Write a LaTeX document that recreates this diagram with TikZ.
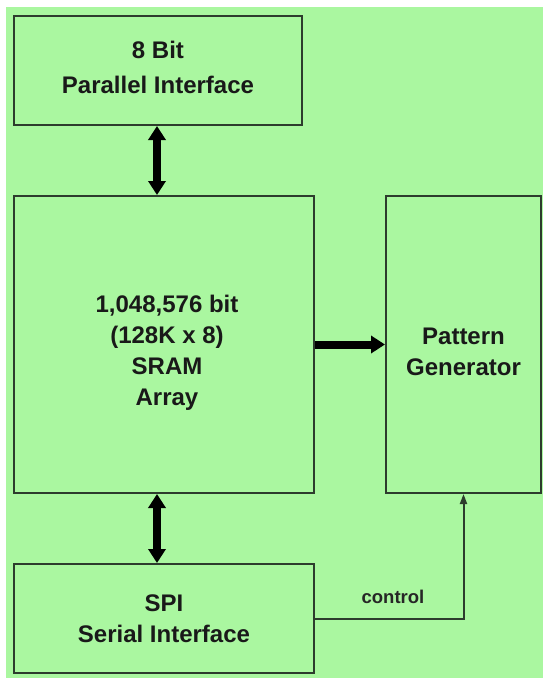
\documentclass[tikz,border=0pt]{standalone}
\usepackage{fontspec}
\setmainfont{Liberation Sans}
\usetikzlibrary{arrows.meta}
\definecolor{bgreen}{RGB}{170,247,160}
\definecolor{edge}{RGB}{45,60,45}
\begin{document}
\begin{tikzpicture}[x=1pt,y=-1pt,
  blk/.style={draw=edge,line width=2pt,fill=bgreen,inner sep=0pt},
  txt/.style={align=center,inner sep=0pt,text=black!90,
    font=\fontsize{24}{31}\selectfont\bfseries},
  fat/.style={line width=8pt,-{Triangle[width=17pt,length=14pt]}},
  fatboth/.style={line width=8pt,{Triangle[width=17pt,length=14pt]}-{Triangle[width=17pt,length=14pt]}},
  thin/.style={line width=2pt,draw=edge,-{Triangle[width=7pt,length=10pt]}}]
\useasboundingbox (0,0) rectangle (543,678);
\fill[white] (0,0) rectangle (543,678);
\fill[bgreen] (6,7) rectangle (543,678);
\node[blk,minimum width=288pt,minimum height=109pt] (par) at (158,70.5) {};
\node[blk,minimum width=300pt,minimum height=297pt] (sram) at (164,344.5) {};
\node[blk,minimum width=155pt,minimum height=297pt] (pat) at (463.5,344.5) {};
\node[blk,minimum width=300pt,minimum height=109pt] (spi) at (164,618.5) {};
\node[txt,font=\fontsize{24}{35}\selectfont\bfseries] (partxt) at ([yshift=3pt]par.center) {8 Bit\\Parallel Interface};
\node[txt] (sramtxt) at ([xshift=3pt,yshift=-8pt]sram.center) {1,048,576 bit\\(128K x 8)\\SRAM\\Array};
\node[txt] (pattxt) at ([yshift=-7pt]pat.center) {Pattern\\Generator};
\node[txt] (spitxt) at (spi.center) {SPI\\Serial Interface};
\coordinate (ax) at (157,0);
\draw[fatboth] (par.south -| ax) -- (sram.north -| ax);
\draw[fatboth] (sram.south -| ax) -- (spi.north -| ax);
\draw[fat] (sram.east) -- (pat.west);
\draw[thin] (spi.east) -| (pat.south);
\node[font=\fontsize{18.5}{20}\selectfont\bfseries,text=black!85] (ctl) at (393,597) {control};
\end{tikzpicture}
\end{document}
